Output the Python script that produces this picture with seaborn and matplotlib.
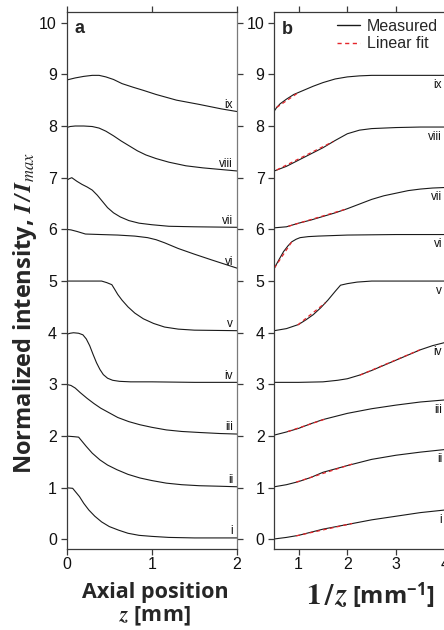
import numpy as np
import pandas as pd
import matplotlib
matplotlib.use("Agg")
import matplotlib.pyplot as plt
from matplotlib.lines import Line2D
import seaborn as sns

# ---------------- data ----------------
labels = ["i", "ii", "iii", "iv", "v", "vi", "vii", "viii", "ix"]
offsets = [0, 1, 2, 3, 4, 5, 6, 7, 8]

# panel a: normalized intensity vs axial position z [mm]
a_z = [
    [0, 0.07, 0.10, 0.15, 0.20, 0.26, 0.33, 0.41, 0.50, 0.61, 0.72, 0.85, 1.0, 1.2, 1.5, 2.0],
    [0, 0.08, 0.14, 0.18, 0.23, 0.30, 0.39, 0.48, 0.59, 0.72, 0.86, 1.0, 1.17, 1.35, 1.56, 1.8, 2.0],
    [0, 0.05, 0.10, 0.16, 0.24, 0.32, 0.40, 0.50, 0.60, 0.73, 0.86, 1.0, 1.17, 1.35, 1.56, 1.8, 2.0],
    [0, 0.04, 0.08, 0.14, 0.19, 0.23, 0.27, 0.31, 0.35, 0.39, 0.43, 0.48, 0.54, 0.62, 0.75, 1.0, 1.5, 2.0],
    [0, 0.2, 0.41, 0.47, 0.53, 0.56, 0.60, 0.65, 0.72, 0.80, 0.90, 1.02, 1.15, 1.31, 1.5, 2.0],
    [0, 0.05, 0.12, 0.18, 0.22, 0.4, 0.6, 0.8, 0.95, 1.05, 1.15, 1.31, 1.5, 1.7, 1.85, 2.0],
    [0, 0.03, 0.06, 0.12, 0.18, 0.24, 0.30, 0.36, 0.42, 0.48, 0.55, 0.63, 0.73, 0.85, 1.0, 1.2, 1.5, 2.0],
    [0, 0.04, 0.10, 0.20, 0.30, 0.38, 0.46, 0.55, 0.64, 0.73, 0.83, 0.93, 1.05, 1.2, 1.4, 1.6, 1.8, 2.0],
    [0, 0.1, 0.2, 0.3, 0.38, 0.46, 0.55, 0.65, 0.78, 0.9, 1.05, 1.29, 1.55, 1.82, 2.0],
]
a_val = [
    [1.00, 0.99, 0.93, 0.83, 0.70, 0.57, 0.45, 0.34, 0.25, 0.18, 0.12, 0.08, 0.06, 0.04, 0.03, 0.03],
    [1.00, 0.99, 0.98, 0.90, 0.80, 0.67, 0.54, 0.44, 0.35, 0.26, 0.19, 0.14, 0.09, 0.06, 0.04, 0.03, 0.02],
    [1.00, 0.98, 0.93, 0.84, 0.73, 0.63, 0.54, 0.45, 0.36, 0.28, 0.22, 0.17, 0.12, 0.09, 0.07, 0.05, 0.04],
    [0.97, 0.99, 1.00, 0.99, 0.96, 0.88, 0.75, 0.58, 0.42, 0.29, 0.19, 0.12, 0.08, 0.06, 0.05, 0.05, 0.04, 0.04],
    [1.00, 1.00, 1.00, 0.97, 0.93, 0.85, 0.74, 0.63, 0.50, 0.38, 0.27, 0.18, 0.11, 0.07, 0.05, 0.04],
    [1.00, 0.99, 0.96, 0.93, 0.91, 0.90, 0.89, 0.87, 0.84, 0.80, 0.74, 0.63, 0.52, 0.41, 0.33, 0.25],
    [0.95, 0.98, 1.00, 0.93, 0.87, 0.82, 0.76, 0.66, 0.54, 0.42, 0.32, 0.24, 0.17, 0.12, 0.09, 0.06, 0.05, 0.04],
    [0.97, 0.99, 1.00, 1.00, 0.99, 0.96, 0.90, 0.81, 0.71, 0.62, 0.52, 0.44, 0.37, 0.30, 0.23, 0.19, 0.16, 0.13],
    [0.89, 0.93, 0.96, 0.98, 0.98, 0.95, 0.90, 0.82, 0.75, 0.69, 0.61, 0.50, 0.42, 0.33, 0.28],
]

# panel b: normalized intensity vs 1/z [1/mm]
b_u = [
    [0.5, 0.75, 1.0, 1.25, 1.5, 2.0, 2.5, 3.0, 3.5, 4.0],
    [0.5, 0.75, 1.0, 1.25, 1.5, 2.0, 2.5, 3.0, 3.5, 4.0],
    [0.5, 0.75, 1.0, 1.25, 1.5, 2.0, 2.5, 3.0, 3.5, 4.0],
    [0.5, 1.0, 1.5, 1.8, 2.0, 2.25, 2.5, 2.75, 3.0, 3.25, 3.5, 3.75, 4.0],
    [0.5, 0.75, 1.0, 1.15, 1.3, 1.45, 1.6, 1.75, 1.86, 2.0, 2.2, 2.5, 3.0, 3.5, 4.0],
    [0.5, 0.6, 0.69, 0.78, 0.86, 0.95, 1.03, 1.2, 1.4, 2.0, 3.0, 4.0],
    [0.5, 0.75, 1.0, 1.25, 1.5, 1.75, 2.0, 2.25, 2.5, 2.75, 3.0, 3.25, 3.5, 3.75, 4.0],
    [0.5, 0.75, 1.0, 1.25, 1.5, 1.75, 2.0, 2.25, 2.5, 3.0, 3.5, 4.0],
    [0.5, 0.55, 0.62, 0.75, 0.9, 1.0, 1.15, 1.3, 1.5, 1.75, 2.0, 2.25, 2.5, 3.0, 3.5, 4.0],
]
b_val = [
    [0.01, 0.04, 0.08, 0.14, 0.20, 0.29, 0.38, 0.45, 0.52, 0.57],
    [0.02, 0.06, 0.12, 0.20, 0.30, 0.43, 0.55, 0.63, 0.69, 0.74],
    [0.02, 0.08, 0.15, 0.24, 0.32, 0.44, 0.53, 0.60, 0.66, 0.70],
    [0.04, 0.04, 0.05, 0.08, 0.11, 0.18, 0.27, 0.37, 0.47, 0.57, 0.67, 0.75, 0.81],
    [0.04, 0.08, 0.16, 0.25, 0.35, 0.48, 0.63, 0.80, 0.92, 0.95, 0.98, 1.00, 1.00, 1.00, 1.00],
    [0.25, 0.42, 0.57, 0.68, 0.76, 0.81, 0.84, 0.86, 0.87, 0.89, 0.90, 0.90],
    [0.03, 0.05, 0.12, 0.18, 0.25, 0.32, 0.40, 0.49, 0.58, 0.65, 0.70, 0.75, 0.78, 0.80, 0.81],
    [0.13, 0.22, 0.34, 0.46, 0.58, 0.72, 0.85, 0.92, 0.95, 0.97, 0.98, 0.98],
    [0.29, 0.36, 0.43, 0.52, 0.61, 0.65, 0.71, 0.77, 0.84, 0.91, 0.95, 0.97, 0.98, 0.98, 0.98, 0.98],
]

# linear fits (start/end of fitted range on 1/z axis, local values)
fit_u0 = [0.95, 0.95, 0.78, 2.26, 0.98, 0.50, 0.79, 0.55, 0.55]
fit_u1 = [2.10, 2.10, 1.58, 3.49, 1.55, 0.86, 2.00, 1.71, 1.00]
fit_v0 = [0.07, 0.11, 0.09, 0.18, 0.15, 0.25, 0.06, 0.15, 0.36]
fit_v1 = [0.31, 0.46, 0.34, 0.67, 0.58, 0.76, 0.40, 0.70, 0.65]

y_ticks = list(range(0, 11))
a_xticks = [0, 1, 2]
b_xticks = [1, 2, 3, 4]

# ---------------- frames ----------------
rows_a, rows_b, rows_f = [], [], []
for k, lab in enumerate(labels):
    for z, v in zip(a_z[k], a_val[k]):
        rows_a.append((lab, z, v + offsets[k]))
    for u, v in zip(b_u[k], b_val[k]):
        rows_b.append((lab, u, v + offsets[k]))
    rows_f.append((lab, fit_u0[k], fit_v0[k] + offsets[k]))
    rows_f.append((lab, fit_u1[k], fit_v1[k] + offsets[k]))
dfa = pd.DataFrame(rows_a, columns=["curve", "x", "y"])
dfb = pd.DataFrame(rows_b, columns=["curve", "x", "y"])
dff = pd.DataFrame(rows_f, columns=["curve", "x", "y"])

# ---------------- style ----------------
sns.set_style("ticks")
plt.rcParams["font.family"] = ["Liberation Sans", "DejaVu Sans"]
plt.rcParams["mathtext.fontset"] = "custom"
plt.rcParams["mathtext.rm"] = "STIXGeneral:bold"
plt.rcParams["mathtext.bf"] = "STIXGeneral:bold"
plt.rcParams["mathtext.it"] = "STIXGeneral:italic"
plt.rcParams["mathtext.sf"] = "Open Sans:bold"
try:
    plt.rcParams["mathtext.bfit"] = "STIXGeneral:italic:bold"
except KeyError:
    pass

spine_c = "#3a3a3a"
line_c = "#1a1a1a"
red = "#e5262b"

W, H = 444, 630
fig = plt.figure(figsize=(W / 100, H / 100), dpi=100)
top = 1 - 12.3 / H
bot = 1 - 549.3 / H
axa = fig.add_axes([66.7 / W, bot, (237 - 66.7) / W, top - bot])
axb = fig.add_axes([274.3 / W, bot, (444.7 - 274.3) / W, top - bot])

sns.lineplot(data=dfa, x="x", y="y", units="curve", estimator=None, sort=False,
             color=line_c, lw=0.8, ax=axa, legend=False)
sns.lineplot(data=dfb, x="x", y="y", units="curve", estimator=None, sort=False,
             color=line_c, lw=0.8, ax=axb, legend=False)
sns.lineplot(data=dff, x="x", y="y", units="curve", estimator=None, sort=False,
             color=red, lw=0.9, ax=axb, legend=False, linestyle=(0, (3, 2.5)))

for ax, xl, xt in [(axa, (0, 2), a_xticks), (axb, (0.5, 4.0), b_xticks)]:
    ax.set_xlim(*xl)
    ax.set_ylim(-0.19, 10.2)
    ax.set_xticks(xt)
    ax.set_yticks(y_ticks)
    ax.set_xlabel("")
    ax.set_ylabel("")
    for s in ax.spines.values():
        s.set_color(spine_c)
        s.set_linewidth(0.9)
        s.set_visible(True)
    ax.tick_params(direction="out", length=4, width=0.9, color=spine_c,
                   labelsize=11.5, labelcolor="#111111", top=True)
    ax.tick_params(axis="x", pad=1.5)
    ax.tick_params(axis="y", pad=3)

axa.spines["right"].set_color("#7a7a7a")
axa.tick_params(right=True, labelright=False, labeltop=False)
axb.tick_params(labeltop=False)

# curve labels
for k, lab in enumerate(labels):
    axa.text(1.955, a_val[k][-1] + offsets[k] + 0.07, lab, ha="right", va="baseline",
             fontsize=8.5, color="#111111")
    axb.text(3.945, b_val[k][-1] + offsets[k] - 0.25, lab, ha="right", va="baseline",
             fontsize=8.5, color="#111111")

# panel letters
axa.text(0.045, 0.962, "a", transform=axa.transAxes, fontsize=13, fontweight="bold",
         ha="left", va="baseline")
axb.text(0.045, 0.959, "b", transform=axb.transAxes, fontsize=13, fontweight="bold",
         ha="left", va="baseline")

# legend
handles = [Line2D([], [], color=line_c, lw=1.0),
           Line2D([], [], color=red, lw=1.0, linestyle=(0, (3, 2.5)))]
axb.legend(handles, ["Measured", "Linear fit"], loc="upper left",
           bbox_to_anchor=(0.368, 0.988), frameon=False, fontsize=11.5,
           handlelength=1.45, handletextpad=0.4, labelspacing=0.15,
           borderpad=0, borderaxespad=0)

# axis labels
lab_font = dict(family=["Open Sans", "DejaVu Sans"], weight="bold")
axa.set_ylabel(r"Normalized intensity, $\mathbfit{I\,/\,I}_{\mathit{max}}$",
               fontsize=17, **lab_font)
axa.yaxis.set_label_coords(-0.16, 0.44)
axa.set_xlabel("Axial position\n" + r"$\mathbfit{z}$ [mm]", fontsize=15.5,
               linespacing=1.12, **lab_font)
axa.xaxis.set_label_coords(0.52, -0.060)
# panel b x label: larger math part followed by the unit
axb.text(0.432, -0.102, r"$\mathbf{1}\,/\,\mathbfit{z}$", transform=axb.transAxes,
         ha="right", va="baseline", fontsize=21)
axb.text(0.455, -0.102, r"[mm$^{\mathsf{-1}}$]", transform=axb.transAxes,
         ha="left", va="baseline", fontsize=17, **lab_font)

fig.savefig("out.png", dpi=100)
